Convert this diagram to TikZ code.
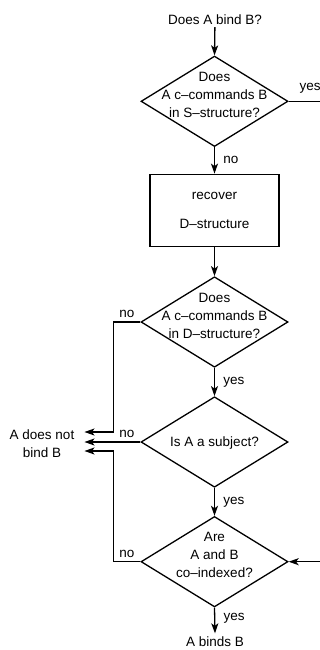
\documentclass[tikz,border=0pt]{standalone}
\usepackage{fontspec}
\setmainfont{Liberation Sans}
\usepackage{tikz}
\usetikzlibrary{arrows.meta,calc,positioning,shapes.geometric}
\tikzset{
    mydia/.style={diamond,draw=black,line width=1.3pt,minimum width=147pt,minimum height=90.5pt,inner sep=0pt},
    mybox/.style={rectangle,draw=black,line width=1.3pt,minimum width=129pt,minimum height=72.5pt,align=center},
    mytext/.style={align=center,inner sep=2pt},
    myedge/.style={line width=1.3pt,draw=black,-{Stealth[length=10pt,width=7pt,inset=2.5pt]}},
    every node/.style={font=\fontsize{13.5}{18}\selectfont}
}

\begin{document}
\begin{tikzpicture}[x=1pt,y=-1pt]
  \useasboundingbox (0,0) rectangle (320,650);
  \clip (0,0) rectangle (320,650);
  \node[mytext] (start) at (215,20) {Does A bind B?};
  \node[mydia,label={[mytext,yshift=6.5pt]center:Does\\A c--commands B\\in S--structure?}] (d1) at (214.5,101.3) {};
  \node[mybox] (rec) at (214.5,210.5) {recover\\[11pt]D--structure};
  \node[mydia,label={[mytext,yshift=6.5pt]center:Does\\A c--commands B\\in D--structure?}] (d2) at (214.5,322) {};
  \node[mydia,label={[mytext,yshift=-1pt]center:Is A a subject?}] (d3) at (214.5,442) {};
  \node[mydia,label={[mytext,yshift=6.5pt]center:Are\\A and B\\co--indexed?}] (d4) at (214.5,561.7) {};
  \node[mytext,inner xsep=10pt] (nobind) at (42,444) {A does not\\bind B};
  \node[mytext,inner sep=3pt] (bind) at (215,641.5) {A binds B};
  \coordinate (lx) at (113.3,0);
  \coordinate (rx) at (330,0);
  \draw[myedge] (start) -- (d1.north);
  \draw[myedge] (d1.south) -- node[right=5pt]{no} (rec.north);
  \draw[myedge] (rec.south) -- (d2.north);
  \draw[myedge] (d2.south) -- node[right=5pt]{yes} (d3.north);
  \draw[myedge] (d3.south) -- node[right=5pt]{yes} (d4.north);
  \draw[myedge] (d4.south) -- node[right=5pt,yshift=2pt]{yes} (bind.north);
  \draw[myedge] (d1.east) -- node[pos=0,above right=4pt and 7pt]{yes} (rx |- d1.east) |- (d4.east);
  \draw[myedge] (d2.west) -- node[pos=0,above left=0pt and 2pt]{no} (lx |- d2.west) |- ([yshift=12pt]nobind.east);
  \draw[myedge] (d3.west) -- node[pos=0,above left=0pt and 2pt]{no} (nobind.east |- d3.west);
  \draw[myedge] (d4.west) -- node[pos=0,above left=0pt and 2pt]{no} (lx |- d4.west) |- ([yshift=-7pt]nobind.east);
\end{tikzpicture}
\end{document}
